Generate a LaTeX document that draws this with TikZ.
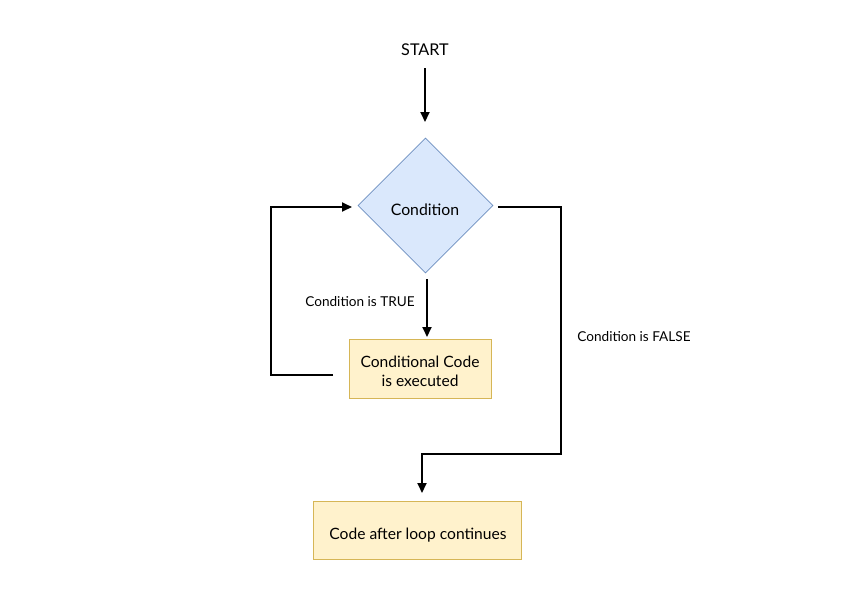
\documentclass[tikz,border=0pt]{standalone}
\usepackage{fontspec}
\setmainfont{Lato}
\usetikzlibrary{shapes.geometric,arrows.meta,calc}
\definecolor{dfill}{HTML}{DAE8FC}
\definecolor{ddraw}{HTML}{6C8EBF}
\definecolor{bfill}{HTML}{FFF2CC}
\definecolor{bdraw}{HTML}{D6B656}
\tikzset{
  dec/.style={diamond, aspect=1, draw=ddraw, fill=dfill, line width=0.6pt, minimum width=135pt, minimum height=135pt, inner sep=0pt},
  codebox/.style={rectangle, draw=bdraw, fill=bfill, line width=0.6pt, inner sep=0pt},
  boxtext/.style={font=\fontsize{15.6}{19}\selectfont, align=center, inner sep=0pt},
  lbl/.style={font=\fontsize{13.6}{16}\selectfont, inner sep=0pt},
  conn/.style={line width=1.8pt, -{Triangle[length=10pt,width=9pt]}, line join=miter},
}
\begin{document}
\begin{tikzpicture}[x=1pt,y=-1pt]
\useasboundingbox (0,0) rectangle (850,600);
\node[font=\fontsize{16.2}{19}\selectfont, inner sep=0pt] (start) at (425,50) {START};
\node[dec] (cond) at (425.5,205.5) {};
\node[boxtext, font=\fontsize{15.8}{18}\selectfont] (condt) at (425,210) {Condition};
\node[codebox, minimum width=142pt, minimum height=59pt] (body) at (420,368.5) {};
\node[boxtext] (bodyt) at (420,371) {Conditional Code\\is executed};
\node[codebox, minimum width=208pt, minimum height=58pt] (after) at (417,530) {};
\node[boxtext] (aftert) at (418,535) {Code after loop continues};
\node[lbl] (ltrue) at (360,302) {Condition is TRUE};
\node[lbl] (lfalse) at (634,337) {Condition is FALSE};
\coordinate (sA) at (425,68);
\draw[conn] (sA) -- (sA |- {(0,122)});
\coordinate (tA) at (427,279);
\coordinate (tB) at (427,337);
\draw[conn] (tA) -- (tB);
\coordinate (fA) at (498,207);
\coordinate (fB) at (561,207);
\coordinate (fC) at (561,454);
\coordinate (fD) at (422,454);
\coordinate (fE) at (422,493);
\draw[conn] (fA) -- (fB) -- (fC) -- (fD) -- (fE);
\coordinate (lA) at (333,375);
\coordinate (lB) at (271,375);
\coordinate (lC) at (271,207);
\coordinate (lD) at (352,207);
\draw[conn] (lA) -- (lB) -- (lC) -- (lD);
\end{tikzpicture}
\end{document}
